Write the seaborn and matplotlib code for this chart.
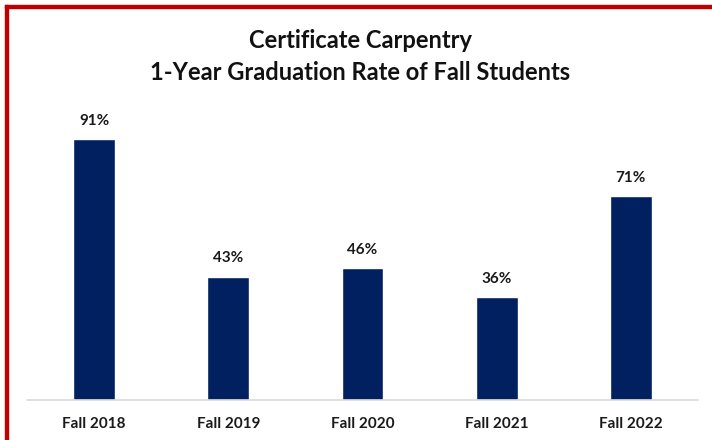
import matplotlib
matplotlib.use("Agg")
import matplotlib.pyplot as plt
import seaborn as sns
import pandas as pd
from matplotlib.patches import Rectangle

# data
terms = ["Fall 2018", "Fall 2019", "Fall 2020", "Fall 2021", "Fall 2022"]
grad_rates = [91, 43, 46, 36, 71]

df = pd.DataFrame({"term": terms, "rate": grad_rates})

sns.set_theme(style="white")
plt.rcParams["font.family"] = ["Lato", "DejaVu Sans"]

fig = plt.figure(figsize=(7.12, 4.4), dpi=100)
ax = fig.add_axes([27 / 712, 1 - 400 / 440, 671 / 712, 287 / 440])

sns.barplot(data=df, x="term", y="rate", color="#002060", saturation=1,
            width=0.31, ax=ax)

for p, v in zip(ax.patches, grad_rates):
    ax.annotate(f"{v}%", (p.get_x() + p.get_width() / 2, p.get_height()),
                xytext=(0, 8), textcoords="offset points", ha="center",
                va="bottom", fontsize=11, fontweight="bold", color="#1a1a1a")

ax.set_ylim(0, 100)
ax.set_xlim(-0.5, 4.5)
ax.set_xlabel("")
ax.set_ylabel("")
ax.set_yticks([])
ax.tick_params(axis="x", length=0, pad=12)
for lab in ax.get_xticklabels():
    lab.set_fontweight("bold")
    lab.set_fontsize(11)
    lab.set_color("#1a1a1a")
for s in ["top", "right", "left"]:
    ax.spines[s].set_visible(False)
ax.spines["bottom"].set_color("#d9d9d9")
ax.spines["bottom"].set_linewidth(1.2)

fig.text(0.506, 1 - 40 / 440, "Certificate Carpentry", ha="center", va="center",
         fontsize=17, fontweight="bold", color="#111111")
fig.text(0.506, 1 - 73 / 440, "1-Year Graduation Rate of Fall Students", ha="center",
         va="center", fontsize=17, fontweight="bold", color="#111111")

# red frame on top and left edges
fig.patches.append(Rectangle((5 / 712, 0), 3 / 712, 1 - 5 / 440, transform=fig.transFigure,
                             color="#c00000", zorder=10))
fig.patches.append(Rectangle((5 / 712, 1 - 8 / 440), 1, 3 / 440, transform=fig.transFigure,
                             color="#c00000", zorder=10))

fig.savefig("out.png", dpi=100)
